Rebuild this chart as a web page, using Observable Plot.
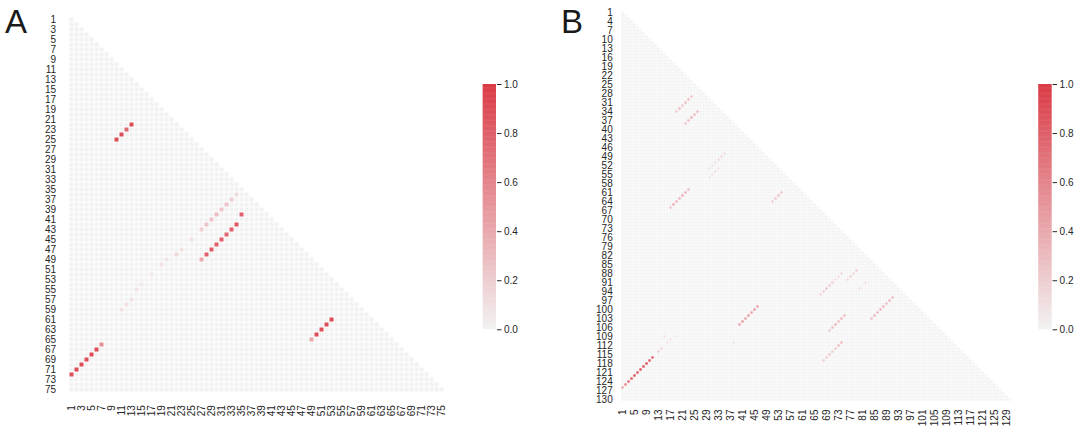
<!DOCTYPE html>
<html><head><meta charset="utf-8">
<script src="https://cdn.jsdelivr.net/npm/d3@7"></script>
<script src="https://cdn.jsdelivr.net/npm/@observablehq/plot@0.6"></script>
<style>
body{margin:0;background:#fff;font-family:"Liberation Sans",Arial,sans-serif;}
#root{position:relative;width:1082px;height:428px;overflow:hidden;background:#fff}
.abs{position:absolute;top:0}
.letter{position:absolute;font-size:33px;color:#1a1a1a;line-height:1}
svg{overflow:visible}
</style></head><body><div id="root"></div>
<script>
// ---- data ----
const sizeA = 75;
const sizeB = 130;
const tickA = [1,3,5,7,9,11,13,15,17,19,21,23,25,27,29,31,33,35,37,39,41,43,45,47,49,51,53,55,57,59,61,63,65,67,69,71,73,75];
const tickBy = [1,4,7,10,13,16,19,22,25,28,31,34,37,40,43,46,49,52,55,58,61,64,67,70,73,76,79,82,85,88,91,94,97,100,103,106,109,112,115,118,121,124,127,130];
const tickBx = [1,5,9,13,17,21,25,29,33,37,41,45,49,53,57,61,65,69,73,77,81,85,89,93,97,101,105,109,113,117,121,125,129];
const colorTicks = [0,0.2,0.4,0.6,0.8,1.0];
// non-zero cells [row, col, value]
const hotA = [
  [22,13,0.92],[23,12,0.75],[24,11,0.9],[25,10,0.9],
  [36,34,0.12],[37,33,0.2],[38,32,0.25],[39,31,0.25],[40,30,0.3],[41,29,0.25],[42,28,0.25],[43,27,0.2],
  [45,25,0.1],[47,23,0.1],[48,22,0.15],[49,20,0.08],[50,19,0.1],[52,17,0.06],[54,15,0.06],[55,14,0.08],
  [57,13,0.08],[58,12,0.1],[59,11,0.1],
  [40,35,0.8],[42,34,0.85],[43,33,0.8],[44,32,0.75],[45,31,0.8],[46,30,0.8],[47,29,0.82],[48,28,0.8],[49,27,0.4],
  [66,7,0.55],[67,6,0.9],[68,5,0.9],[69,4,0.9],[70,3,0.9],[71,2,0.9],[72,1,0.9],
  [61,53,0.9],[62,52,0.9],[63,51,0.9],[64,50,0.9],[65,49,0.4]
];
const hotB = [
  [29,24,0.25],[30,23,0.3],[31,22,0.3],[32,21,0.25],[33,20,0.3],[34,19,0.2],
  [34,26,0.3],[35,25,0.3],[36,24,0.35],[37,23,0.3],[38,22,0.25],
  [48,35,0.12],[49,34,0.15],[50,33,0.12],[51,32,0.1],[52,31,0.1],[53,30,0.08],
  [53,33,0.08],[54,32,0.1],[55,31,0.08],[56,30,0.06],
  [60,23,0.3],[61,22,0.35],[62,21,0.4],[63,20,0.35],[64,19,0.35],[65,18,0.4],[66,17,0.25],
  [61,54,0.25],[62,53,0.3],[63,52,0.25],[64,51,0.2],
  [87,79,0.2],[88,78,0.15],[89,77,0.2],[90,76,0.15],
  [88,74,0.15],[89,73,0.12],[90,72,0.1],[91,71,0.2],[92,70,0.2],[93,69,0.25],[94,68,0.2],[95,67,0.15],
  [93,80,0.12],[91,82,0.1],
  [96,91,0.3],[97,90,0.35],[98,89,0.3],[99,88,0.35],[100,87,0.35],[101,86,0.3],[102,85,0.35],[103,84,0.3],
  [102,75,0.3],[103,74,0.35],[104,73,0.3],[105,72,0.35],[106,71,0.3],[107,70,0.25],
  [111,74,0.3],[112,73,0.3],[113,72,0.25],[114,71,0.2],[115,70,0.25],[116,69,0.2],[117,68,0.2],
  [99,46,0.45],[100,45,0.5],[101,44,0.45],[102,43,0.5],[103,42,0.45],[104,41,0.5],[105,40,0.45],
  [116,11,0.8],[117,10,0.85],[118,9,0.9],[119,8,0.9],[120,7,0.9],[121,6,0.85],[122,5,0.9],[123,4,0.85],[124,3,0.75],[125,2,0.6],[126,1,0.4],
  [113,14,0.15],[114,13,0.2],[109,15,0.1],[110,17,0.08],[111,16,0.08],[109,19,0.06],[111,38,0.08]
];

// ---- build lower-triangle matrices ----
function buildCells(n, hot) {
  const lookup = new Map(hot.map(([r, c, v]) => [r + "," + c, v]));
  const out = [];
  for (let r = 1; r <= n; r++) for (let c = 1; c <= r; c++) out.push({r, c, v: lookup.get(r + "," + c) ?? 0});
  return out;
}
const cellsA = buildCells(sizeA, hotA);
const cellsB = buildCells(sizeB, hotB);

const textColor = "#262626";
const colorScale = {type: "linear", domain: [0, 1], range: ["#f2f2f2", "#da3b46"], interpolate: "rgb"};
const font = {fontSize: "10px", fontFamily: "'Liberation Sans', Arial, sans-serif", color: textColor, background: "transparent"};

function heatmap(cells, n, xt, yt, cfg) {
  const dom = d3.range(1, n + 1);
  return Plot.plot({
    width: cfg.width, height: 428,
    marginLeft: cfg.ml, marginRight: cfg.mr, marginTop: cfg.mt, marginBottom: cfg.mb,
    style: font,
    x: {type: "band", domain: dom, padding: 0},
    y: {type: "band", domain: dom, padding: 0},
    color: colorScale,
    marks: [
      Plot.cell(cells, {x: "c", y: "r", fill: "v", inset: cfg.inset}),
      Plot.axisX(xt, {tickSize: 0, tickPadding: 6, tickRotate: -90, label: null, fontSize: 10, fill: textColor}),
      Plot.axisY(yt, {tickSize: 0, tickPadding: 7, label: null, fontSize: 10, fill: textColor})
    ]
  });
}

function colorbar(cfg) {
  const steps = d3.range(0, 1, 0.005);
  return Plot.plot({
    width: 70, height: 428,
    marginLeft: cfg.ml, marginRight: 70 - cfg.ml - 13.3, marginTop: 84, marginBottom: 428 - 329.3,
    style: font,
    x: {domain: [0, 1], axis: null},
    y: {domain: [0, 1]},
    color: colorScale,
    marks: [
      Plot.rect(steps, {x1: 0, x2: 1, y1: d => d, y2: d => Math.min(1, d + 0.007), fill: d => d + 0.0025}),
      Plot.axisY(colorTicks, {anchor: "right", tickSize: 4.5, tickPadding: 3, tickFormat: d3.format(".1f"), label: null, fontSize: 10, fill: textColor, stroke: textColor})
    ]
  });
}

const root = document.getElementById("root");
function place(node, left) { node.classList.add("abs"); node.style.left = left + "px"; root.appendChild(node); }

place(heatmap(cellsA, sizeA, tickA, tickA, {width: 460, ml: 62.6, mr: 460 - 451.1, mt: 10.1, mb: 428 - 398.6, inset: 0.5}), 0);
place(colorbar({ml: 12.7}), 470);
place(heatmap(cellsB, sizeB, tickBx, tickBy, {width: 470, ml: 59.2, mr: 470 - (1013 - 560), mt: 9.2, mb: 428 - 403, inset: 0.3}), 560);
place(colorbar({ml: 18.3}), 1020);

const la = document.createElement("div"); la.className = "letter"; la.textContent = "A"; la.style.left = "5px"; la.style.top = "5px"; root.appendChild(la);
const lb = document.createElement("div"); lb.className = "letter"; lb.textContent = "B"; lb.style.left = "561px"; lb.style.top = "5px"; root.appendChild(lb);
</script></body></html>
